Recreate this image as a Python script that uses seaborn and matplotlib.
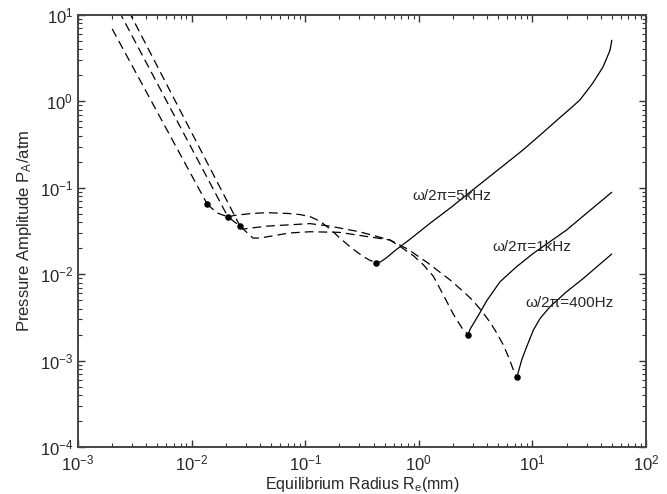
import numpy as np
import pandas as pd
import matplotlib
matplotlib.use("Agg")
import matplotlib.pyplot as plt
import seaborn as sns
from matplotlib.ticker import LogLocator, NullFormatter

sns.set_style("ticks")
plt.rcParams["font.family"] = ["Liberation Sans", "DejaVu Sans"]
plt.rcParams["mathtext.fontset"] = "custom"
plt.rcParams["mathtext.rm"] = "Liberation Sans"
plt.rcParams["mathtext.it"] = "Liberation Sans:italic"

# ---- 5 kHz ----
r_5k_steep = [0.0020, 0.0209]
p_5k_steep = [15.6, 0.046]
r_5k_mid = [0.0209, 0.024, 0.034, 0.046, 0.07, 0.09, 0.11, 0.135, 0.165, 0.2, 0.248, 0.29, 0.325, 0.37, 0.42]
p_5k_mid = [0.046, 0.048, 0.0505, 0.0515, 0.0505, 0.049, 0.0465, 0.041, 0.0335, 0.0265, 0.0208, 0.0178, 0.0160, 0.0145, 0.0136]
r_5k_solid = [0.42, 0.46, 0.52, 0.60, 0.684, 0.85, 1.26, 1.88, 3.0, 5.0, 8.26, 12.0, 17.0, 22.0,
              26.2, 30.0, 34.0, 38.0, 41.8, 45.0, 48.2, 50.0]
p_5k_solid = [0.0136, 0.0139, 0.0155, 0.0182, 0.0208, 0.0258, 0.039, 0.058, 0.095, 0.162, 0.274, 0.42, 0.63, 0.845,
              1.04, 1.31, 1.63, 2.05, 2.5, 3.14, 3.9, 5.1]

# ---- 1 kHz ----
r_1k_steep = [0.0020, 0.0267]
p_1k_steep = [26.0, 0.036]
r_1k_mid = [0.0267, 0.0283, 0.046, 0.11, 0.165, 0.3, 0.557, 0.7, 0.9, 1.1, 1.34, 1.64, 2.0, 2.39, 2.71]
p_1k_mid = [0.036, 0.0333, 0.036, 0.0385, 0.036, 0.031, 0.0249, 0.0205, 0.0163, 0.0128, 0.0095, 0.0058, 0.0035, 0.0024, 0.0020]
r_1k_solid = [2.71, 2.85, 3.46, 3.95, 5.19, 7.26, 10.2, 20.0, 30.0, 49.9]
p_1k_solid = [0.0020, 0.00235, 0.0036, 0.0049, 0.00818, 0.01222, 0.01745, 0.0325, 0.0508, 0.0887]

# ---- 400 Hz ----
r_400_steep = [0.0020, 0.0137]
p_400_steep = [6.9, 0.065]
r_400_mid = [0.0137, 0.0166, 0.0209, 0.0267, 0.0347, 0.0397, 0.073, 0.11, 0.2, 0.557, 0.8, 1.2, 1.88,
             2.5, 3.02, 3.67, 4.3, 4.84, 5.5, 6.2, 6.8, 7.3]
p_400_mid = [0.065, 0.0515, 0.046, 0.036, 0.0262, 0.0262, 0.030, 0.031, 0.0305, 0.0249, 0.0195, 0.0135, 0.0086,
             0.0062, 0.0049, 0.0036, 0.0027, 0.0021, 0.00155, 0.00108, 0.00078, 0.00064]
r_400_solid = [7.3, 8.05, 8.91, 10.2, 11.7, 14.3, 20.0, 28.1, 49.9]
p_400_solid = [0.00064, 0.00102, 0.00145, 0.00226, 0.00308, 0.00421, 0.00627, 0.00895, 0.0171]

# regime-change markers
r_dots = [0.0137, 0.0209, 0.0267, 0.42, 2.71, 7.3]
p_dots = [0.065, 0.046, 0.036, 0.0136, 0.0020, 0.00064]

freq_labels = ["ω/2π=5kHz", "ω/2π=1kHz", "ω/2π=400Hz"]
label_r = [1.96, 9.9, 21.4]
label_p = [0.080, 0.0207, 0.00464]

dashed = [(r_5k_steep, p_5k_steep), (r_5k_mid, p_5k_mid),
          (r_1k_steep, p_1k_steep), (r_1k_mid, p_1k_mid),
          (r_400_steep, p_400_steep), (r_400_mid, p_400_mid)]
solid = [(r_5k_solid, p_5k_solid), (r_1k_solid, p_1k_solid), (r_400_solid, p_400_solid)]

fig = plt.figure(figsize=(6.67, 4.94), dpi=100)
ax = fig.add_axes([78 / 667, 1 - 447 / 494, (646 - 78) / 667, (447 - 15) / 494])
ax.set_xscale("log")
ax.set_yscale("log")

for r, p in dashed:
    df = pd.DataFrame({"r": r, "p": p})
    sns.lineplot(data=df, x="r", y="p", ax=ax, color="black", lw=0.9,
                 sort=False, estimator=None, linestyle=(0, (7, 4)))
for r, p in solid:
    df = pd.DataFrame({"r": r, "p": p})
    sns.lineplot(data=df, x="r", y="p", ax=ax, color="black", lw=0.9,
                 sort=False, estimator=None)

sns.scatterplot(x=r_dots, y=p_dots, ax=ax, color="black", s=22, linewidth=0, zorder=5)

for t, x, y in zip(freq_labels, label_r, label_p):
    ax.text(x, y, t, ha="center", va="center", fontsize=11)

ax.set_xlim(1e-3, 1e2)
ax.set_ylim(1e-4, 1e1)
ax.xaxis.set_major_locator(LogLocator(base=10, numticks=10))
ax.yaxis.set_major_locator(LogLocator(base=10, numticks=10))
ax.xaxis.set_minor_locator(LogLocator(base=10, subs=np.arange(2, 10), numticks=20))
ax.yaxis.set_minor_locator(LogLocator(base=10, subs=np.arange(2, 10), numticks=20))
ax.xaxis.set_minor_formatter(NullFormatter())
ax.yaxis.set_minor_formatter(NullFormatter())
ax.tick_params(which="both", direction="in", top=True, right=True, color="#333333")
ax.tick_params(which="major", length=5, width=1, labelsize=12)
ax.tick_params(axis="x", which="major", pad=5)
ax.tick_params(which="minor", length=3, width=0.8)
for s in ax.spines.values():
    s.set_linewidth(1.4)
    s.set_color("#444444")

ax.set_xlabel(r"Equilibrium Radius R$_\mathrm{e}$(mm)", fontsize=11.5, labelpad=1)
ax.set_ylabel(r"Pressure Amplitude P$_\mathrm{A}$/atm", fontsize=12)

fig.savefig("out.png", dpi=100)
